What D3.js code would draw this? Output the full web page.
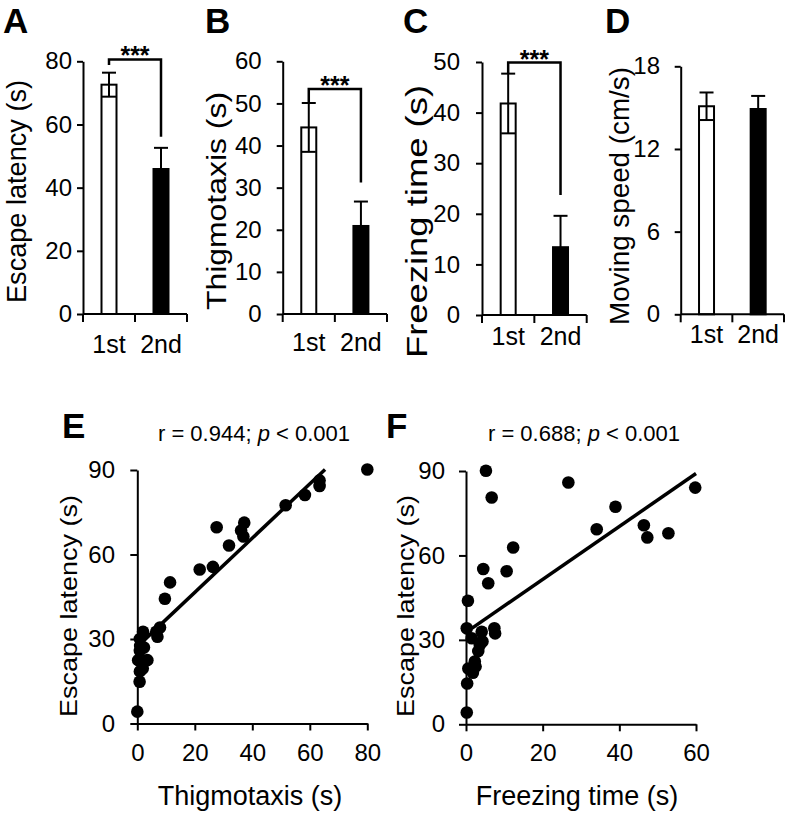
<!DOCTYPE html>
<html><head><meta charset="utf-8">
<script src="https://cdn.jsdelivr.net/npm/d3@7"></script>
<style>
body{margin:0;background:#fff}
text{font-family:Arial,"Liberation Sans",sans-serif;fill:#000}
</style>
</head><body>
<svg id="chart" width="787" height="817" xmlns="http://www.w3.org/2000/svg"></svg>
<script>
// ---------------- DATA ----------------
const categories = ["1st", "2nd"];

const escapeLatencyMean = [72.6, 45.9];
const escapeLatencySem  = [3.8, 6.7];
const thigmotaxisMean   = [44.3, 20.9];
const thigmotaxisSem    = [5.8, 5.8];
const freezingMean      = [41.8, 13.4];
const freezingSem       = [5.9, 6.2];
const speedMean         = [15.1, 14.9];
const speedSem          = [1.0, 0.95];

const ticksA = [0, 20, 40, 60, 80];
const ticksB = [0, 10, 20, 30, 40, 50, 60];
const ticksC = [0, 10, 20, 30, 40, 50];
const ticksD = [0, 6, 12, 18];

// significance brackets (A, B, C): level, left end, right end (data units)
const bracketLevel = [80.6, 53.4, 49.9];
const bracketLeftEnd = [78.8, 50.0, 47.7];
const bracketRightEnd = [56.1, 31.2, 23.7];
const sigLabels = ["***", "***", "***"];

// Scatter E: thigmotaxis vs escape latency
const thigmoX = [80, 63.4, 63.4, 58.3, 51.6, 37.2, 36.1, 36.9, 27.6, 31.9, 26.3, 21.7, 11.4, 9.6,
                 7.9, 6.6, 7.0, 2.0, 0.9, 1.0, 2.3, 0.9, 3.5, 0.3, 1.9, 0.9, 0.8, 0.0];
const thigmoY = [90.2, 86.3, 84.3, 81.1, 77.5, 71.3, 68.5, 66.4, 69.7, 63.2, 55.6, 54.7, 50.1, 44.3,
                 34.1, 32.6, 30.8, 32.6, 30.0, 27.5, 27.0, 25.8, 22.5, 22.5, 19.5, 18.5, 14.8, 4.2];
const regE_x = [0, 65.3];
const regE_y = [27.3, 90.2];
const titleE = ["r = 0.944; ", "p", " < 0.001"];
const ticksEx = [0, 20, 40, 60, 80];
const ticksEy = [0, 30, 60, 90];

// Scatter F: freezing time vs escape latency
const freezeX = [5.2, 6.7, 26.7, 59.8, 39.0, 34.1, 46.4, 47.3, 52.8, 12.3, 4.5, 10.6, 5.8, 0.5,
                 0.2, 4.1, 7.4, 7.6, 1.5, 4.3, 3.6, 3.2, 2.3, 0.6, 2.5, 1.8, 0.3, 0.2];
const freezeY = [90.1, 80.6, 85.9, 84.1, 77.3, 69.3, 70.7, 66.4, 67.9, 62.8, 55.2, 54.4, 50.1, 43.9,
                 34.1, 32.9, 34.1, 32.3, 30.6, 29.4, 28.2, 26.0, 22.3, 19.8, 20.5, 18.3, 14.5, 4.2];
const regF_x = [1.5, 60];
const regF_y = [34.1, 89.1];
const titleF = ["r = 0.688; ", "p", " < 0.001"];
const ticksFx = [0, 20, 40, 60];
const ticksFy = [0, 30, 60, 90];

// ---------------- DRAWING ----------------
const svg = d3.select("#chart");
const barW = 15;

function styleAxis(sel, fs) {
  sel.select(".domain").attr("stroke", "#000").attr("stroke-width", 2);
  sel.selectAll(".tick line").attr("stroke", "#000").attr("stroke-width", 2);
  sel.selectAll(".tick text").attr("font-size", fs).attr("fill", "#000")
     .attr("font-family", "Arial, 'Liberation Sans', sans-serif");
}

function rotLabel(g, txt, x, cy, fs, len) {
  g.append("text").attr("transform", `translate(${x},${cy}) rotate(-90)`)
    .attr("text-anchor", "middle").attr("font-size", fs)
    .attr("textLength", len).attr("lengthAdjust", "spacingAndGlyphs").text(txt);
}

function barPanel(c) {
  const g = svg.append("g");
  const x = d3.scaleBand().domain(categories).range([c.x0, c.x1]);
  const y = d3.scaleLinear().domain([0, c.max]).range([c.y0, c.yTop]);
  const cx = i => x(categories[i]) + x.bandwidth() / 2;

  // bars
  g.selectAll("rect.bar").data(c.mean).join("rect").attr("class", "bar")
    .attr("x", (d, i) => cx(i) - barW / 2).attr("y", d => y(d))
    .attr("width", barW).attr("height", d => y(0) - y(d))
    .attr("fill", (d, i) => i === 0 ? "#fff" : "#000")
    .attr("stroke", "#000").attr("stroke-width", 2);

  // error bars
  const eb = g.selectAll("g.err").data(c.mean).join("g").attr("class", "err");
  eb.append("line").attr("x1", (d, i) => cx(i)).attr("x2", (d, i) => cx(i))
    .attr("y1", (d, i) => y(d + c.sem[i])).attr("y2", (d, i) => y(d - c.sem[i]))
    .attr("stroke", "#000").attr("stroke-width", 2);
  eb.append("line").attr("x1", (d, i) => cx(i) - 7).attr("x2", (d, i) => cx(i) + 7)
    .attr("y1", (d, i) => y(d + c.sem[i])).attr("y2", (d, i) => y(d + c.sem[i]))
    .attr("stroke", "#000").attr("stroke-width", 2);
  eb.append("line").attr("x1", (d, i) => cx(i) - 7).attr("x2", (d, i) => cx(i) + 7)
    .attr("y1", (d, i) => y(d - c.sem[i])).attr("y2", (d, i) => y(d - c.sem[i]))
    .attr("stroke", "#000").attr("stroke-width", 2);

  // y axis
  const ya = g.append("g").attr("transform", `translate(${c.x0},0)`)
    .call(d3.axisLeft(y).tickValues(c.ticks).tickSize(6).tickSizeOuter(0).tickPadding(c.pad));
  styleAxis(ya, 24);

  // x axis with ticks at band boundaries
  const bounds = categories.map(d => x(d)).concat([c.x1]);
  g.append("line").attr("x1", c.x0).attr("x2", c.x1).attr("y1", c.y0).attr("y2", c.y0)
    .attr("stroke", "#000").attr("stroke-width", 2);
  g.selectAll("line.xt").data(bounds).join("line").attr("class", "xt")
    .attr("x1", d => d).attr("x2", d => d).attr("y1", c.y0).attr("y2", c.y0 + 8)
    .attr("stroke", "#000").attr("stroke-width", 2);
  g.selectAll("text.xl").data(categories).join("text").attr("class", "xl")
    .attr("x", (d, i) => cx(i)).attr("y", c.xlabBase).attr("text-anchor", "middle")
    .attr("font-size", 25).text(d => d);

  // y label
  rotLabel(g, c.ylabel, c.ylab.x, c.ylab.cy, c.ylab.fs, c.ylab.len);

  // panel letter
  g.append("text").attr("x", c.letterX).attr("y", 33).attr("font-size", 35)
    .attr("font-weight", "bold").text(c.letter);

  // significance bracket
  if (c.sig !== undefined) {
    const k = c.sig;
    const xl = cx(0), xr = cx(1);
    g.append("path")
      .attr("d", `M${xl},${y(bracketLeftEnd[k])}V${y(bracketLevel[k])}H${xr}V${y(bracketRightEnd[k])}`)
      .attr("fill", "none").attr("stroke", "#000").attr("stroke-width", 2.5);
    g.append("text").attr("x", (xl + xr) / 2).attr("y", y(bracketLevel[k]) + 5)
      .attr("text-anchor", "middle").attr("font-size", 25).attr("font-weight", "bold")
      .text(sigLabels[k]);
  }
}

barPanel({letter: "A", letterX: 3, mean: escapeLatencyMean, sem: escapeLatencySem, ticks: ticksA,
  max: 80, x0: 83, x1: 187, y0: 314, yTop: 61.3, pad: 5, xlabBase: 353,
  ylabel: "Escape latency (s)", ylab: {x: 26, cy: 191.5, fs: 27, len: 223}, sig: 0});
barPanel({letter: "B", letterX: 205, mean: thigmotaxisMean, sem: thigmotaxisSem, ticks: ticksB,
  max: 60, x0: 282.7, x1: 387, y0: 314, yTop: 61.3, pad: 15, xlabBase: 351,
  ylabel: "Thigmotaxis (s)", ylab: {x: 226, cy: 201, fs: 27, len: 218}, sig: 1});
barPanel({letter: "C", letterX: 403, mean: freezingMean, sem: freezingSem, ticks: ticksC,
  max: 50, x0: 482, x1: 586.7, y0: 315, yTop: 62, pad: 16, xlabBase: 345,
  ylabel: "Freezing time (s)", ylab: {x: 426.5, cy: 221.5, fs: 30, len: 273}, sig: 2});
barPanel({letter: "D", letterX: 605, mean: speedMean, sem: speedSem, ticks: ticksD,
  max: 18, x0: 680.7, x1: 784, y0: 314.3, yTop: 66.3, pad: 14.7, xlabBase: 343,
  ylabel: "Moving speed (cm/s)", ylab: {x: 629, cy: 196, fs: 28, len: 258}});

function scatterPanel(c) {
  const g = svg.append("g");
  const x = d3.scaleLinear().domain([0, c.xmax]).range([c.x0, c.x1]);
  const y = d3.scaleLinear().domain([0, 90]).range([c.y0, c.yTop]);

  const xa = g.append("g").attr("transform", `translate(0,${c.y0})`)
    .call(d3.axisBottom(x).tickValues(c.xticks).tickSize(7).tickSizeOuter(0).tickPadding(13));
  styleAxis(xa, 24);
  const ya = g.append("g").attr("transform", `translate(${c.x0},0)`)
    .call(d3.axisLeft(y).tickValues(c.yticks).tickSize(7).tickSizeOuter(0).tickPadding(c.ypad));
  styleAxis(ya, 24);

  // regression line
  g.append("line").attr("x1", x(c.rx[0])).attr("x2", x(c.rx[1]))
    .attr("y1", y(c.ry[0])).attr("y2", y(c.ry[1]))
    .attr("stroke", "#000").attr("stroke-width", 3.5);

  // points
  g.selectAll("circle").data(c.xs).join("circle")
    .attr("cx", d => x(d)).attr("cy", (d, i) => y(c.ys[i])).attr("r", 6.3).attr("fill", "#000");

  // title
  const t = g.append("text").attr("x", c.titleX).attr("y", 441).attr("text-anchor", "middle")
    .attr("font-size", 22);
  t.append("tspan").text(c.title[0]);
  t.append("tspan").attr("font-style", "italic").text(c.title[1]);
  t.append("tspan").text(c.title[2]);

  // axis labels
  g.append("text").attr("x", c.xlabX).attr("y", 805).attr("text-anchor", "middle")
    .attr("font-size", 27).text(c.xlabel);
  rotLabel(g, "Escape latency (s)", c.ylabX, 606, 24, 222);

  // letter
  g.append("text").attr("x", c.letterX).attr("y", 438).attr("font-size", 35)
    .attr("font-weight", "bold").text(c.letter);
}

scatterPanel({letter: "E", letterX: 62, xs: thigmoX, ys: thigmoY, xmax: 80, x0: 137.3, x1: 367.3,
  y0: 723.5, yTop: 470, xticks: ticksEx, yticks: ticksEy, ypad: 15.3, rx: regE_x, ry: regE_y,
  title: titleE, titleX: 254, xlabel: "Thigmotaxis (s)", xlabX: 250, ylabX: 77});
scatterPanel({letter: "F", letterX: 386, xs: freezeX, ys: freezeY, xmax: 60, x0: 466, x1: 696,
  y0: 724.3, yTop: 471, xticks: ticksFx, yticks: ticksFy, ypad: 14, rx: regF_x, ry: regF_y,
  title: titleF, titleX: 584, xlabel: "Freezing time (s)", xlabX: 577, ylabX: 414});
</script>
</body></html>
